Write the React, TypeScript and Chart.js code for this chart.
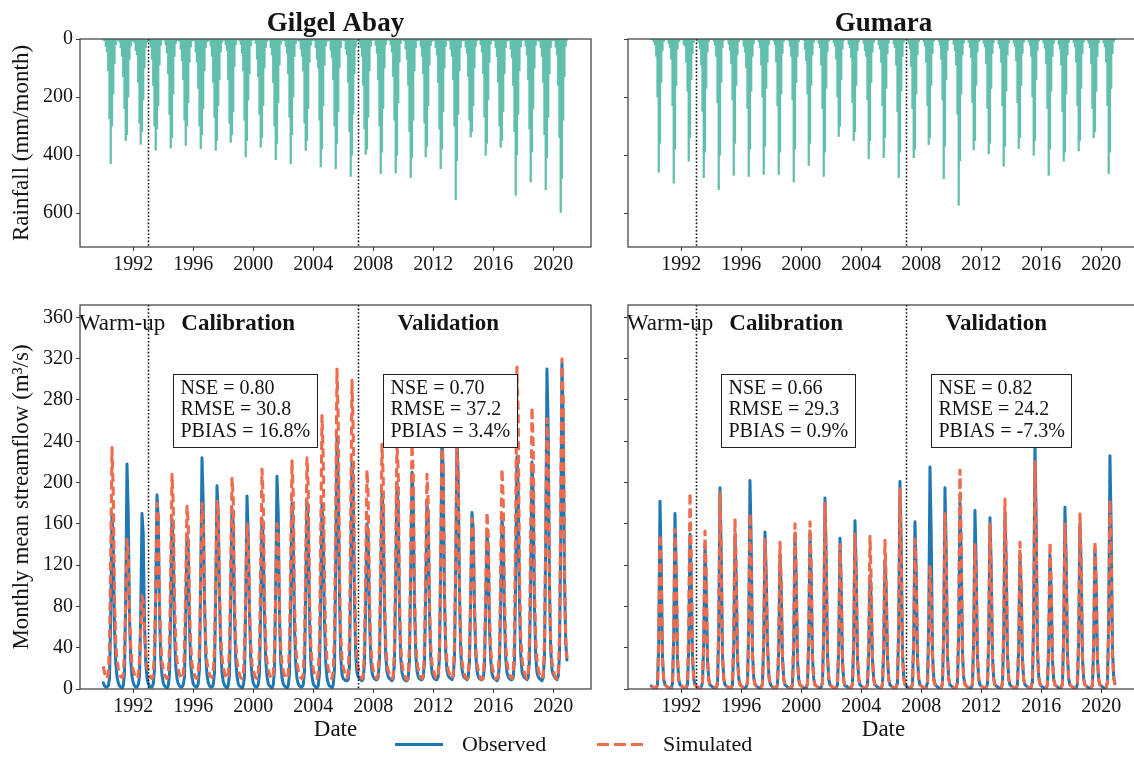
import React, { useEffect, useRef } from 'react';
import { Chart, registerables } from 'chart.js';

Chart.register(...registerables);

const FONT = "'Liberation Serif', 'Times New Roman', Times, serif";
const TEXT = '#141414';
const AXIS = '#3a3a3a';
const RAIN_COLOR = '#62bfad';
const OBS_COLOR = '#1f77b4';
const SIM_COLOR = '#ee6b4d';

const YEARS = [1990, 1991, 1992, 1993, 1994, 1995, 1996, 1997, 1998, 1999, 2000, 2001, 2002, 2003, 2004, 2005, 2006, 2007, 2008, 2009, 2010, 2011, 2012, 2013, 2014, 2015, 2016, 2017, 2018, 2019, 2020];
const X_TICKS = [1992, 1996, 2000, 2004, 2008, 2012, 2016, 2020];
const RAIN_TICKS = [0, 200, 400, 600];
const FLOW_TICKS = [0, 40, 80, 120, 160, 200, 240, 280, 320, 360];
const PERIOD_BREAKS = [1993, 2007];

// Monthly rainfall (mm/month), one row per year, Jan..Dec
const GA_RAIN = [
  [4, 6, 25, 45, 110, 275, 430, 300, 190, 85, 20, 5],
  [3, 10, 30, 60, 130, 240, 350, 330, 200, 70, 25, 6],
  [8, 12, 40, 55, 150, 290, 363, 320, 210, 100, 30, 10],
  [5, 9, 28, 70, 160, 300, 384, 310, 230, 90, 22, 4],
  [2, 5, 20, 48, 120, 260, 376, 340, 190, 60, 15, 6],
  [6, 8, 35, 75, 140, 280, 367, 300, 220, 80, 28, 7],
  [4, 7, 45, 80, 170, 300, 378, 330, 240, 110, 30, 9],
  [7, 5, 25, 60, 150, 270, 384, 350, 230, 140, 45, 12],
  [5, 4, 20, 40, 140, 290, 356, 330, 250, 95, 20, 3],
  [3, 6, 18, 50, 110, 280, 407, 350, 210, 120, 25, 5],
  [4, 3, 15, 70, 130, 260, 373, 340, 230, 100, 30, 8],
  [2, 5, 30, 55, 150, 300, 416, 360, 220, 90, 18, 4],
  [6, 4, 25, 50, 120, 270, 430, 330, 200, 60, 15, 5],
  [5, 8, 35, 60, 110, 290, 384, 350, 240, 80, 22, 6],
  [3, 6, 30, 70, 100, 280, 441, 380, 230, 90, 25, 8],
  [7, 5, 40, 65, 140, 300, 447, 360, 250, 100, 30, 5],
  [4, 6, 35, 55, 150, 320, 474, 400, 260, 120, 28, 7],
  [5, 8, 30, 60, 160, 310, 398, 380, 270, 110, 25, 6],
  [3, 4, 22, 50, 140, 300, 464, 390, 240, 100, 20, 4],
  [2, 5, 20, 45, 130, 280, 462, 400, 220, 80, 15, 3],
  [4, 7, 35, 70, 160, 320, 478, 410, 280, 110, 30, 6],
  [5, 3, 25, 60, 120, 290, 407, 370, 230, 90, 22, 8],
  [3, 6, 30, 55, 150, 310, 447, 380, 250, 100, 25, 5],
  [4, 8, 35, 60, 140, 300, 554, 420, 260, 110, 30, 7],
  [6, 5, 28, 50, 130, 280, 338, 320, 230, 100, 25, 6],
  [3, 4, 20, 45, 120, 270, 401, 360, 210, 80, 18, 4],
  [5, 7, 30, 60, 150, 300, 373, 350, 250, 120, 30, 8],
  [4, 6, 35, 65, 160, 320, 539, 400, 260, 110, 28, 6],
  [3, 5, 25, 55, 140, 310, 493, 390, 240, 100, 22, 5],
  [6, 8, 30, 60, 150, 330, 520, 410, 270, 120, 30, 7],
  [4, 6, 28, 55, 160, 340, 598, 480, 280, 130, 25, 5],
];

const GU_RAIN = [
  [2, 3, 10, 20, 60, 200, 459, 360, 150, 40, 8, 2],
  [1, 4, 15, 30, 70, 230, 497, 380, 160, 35, 10, 3],
  [3, 2, 20, 25, 80, 180, 421, 340, 140, 50, 12, 2],
  [2, 5, 12, 35, 90, 250, 478, 390, 170, 45, 9, 1],
  [1, 2, 8, 22, 60, 220, 519, 400, 150, 30, 6, 2],
  [2, 4, 18, 40, 85, 210, 470, 360, 160, 55, 10, 3],
  [3, 3, 25, 45, 100, 240, 474, 380, 180, 60, 15, 2],
  [2, 1, 10, 30, 90, 200, 467, 370, 170, 80, 20, 4],
  [1, 2, 8, 20, 80, 230, 467, 390, 190, 50, 8, 1],
  [2, 3, 6, 25, 60, 210, 493, 380, 150, 60, 10, 2],
  [1, 2, 5, 35, 75, 190, 436, 360, 160, 55, 12, 3],
  [2, 4, 15, 30, 90, 240, 474, 390, 170, 45, 8, 2],
  [3, 2, 12, 25, 70, 200, 336, 300, 140, 35, 6, 1],
  [2, 3, 18, 30, 65, 220, 350, 320, 160, 40, 10, 2],
  [1, 2, 15, 40, 60, 210, 413, 350, 150, 45, 12, 3],
  [3, 2, 20, 35, 80, 230, 409, 340, 170, 50, 14, 2],
  [2, 3, 18, 30, 90, 250, 478, 390, 180, 60, 12, 3],
  [2, 4, 15, 35, 95, 240, 409, 380, 190, 55, 10, 2],
  [1, 2, 10, 25, 80, 230, 364, 340, 160, 50, 8, 1],
  [1, 2, 8, 22, 70, 210, 482, 370, 140, 40, 6, 1],
  [2, 3, 18, 40, 90, 260, 573, 420, 190, 55, 14, 3],
  [3, 1, 12, 30, 65, 220, 382, 350, 160, 45, 10, 4],
  [2, 3, 15, 28, 85, 240, 396, 360, 170, 50, 12, 2],
  [2, 4, 18, 32, 80, 230, 439, 370, 180, 55, 14, 3],
  [3, 2, 14, 26, 75, 220, 378, 340, 160, 50, 12, 3],
  [1, 2, 10, 22, 60, 200, 401, 350, 140, 40, 8, 1],
  [2, 4, 15, 32, 85, 240, 470, 380, 180, 60, 15, 4],
  [2, 3, 18, 35, 90, 250, 421, 390, 190, 55, 12, 3],
  [1, 2, 12, 28, 80, 230, 386, 350, 170, 50, 10, 2],
  [3, 4, 15, 30, 85, 240, 341, 320, 180, 60, 14, 3],
  [2, 3, 14, 28, 80, 230, 464, 390, 170, 50, 10, 2],
];

// Monthly mean streamflow (m3/s), one row per year, Jan..Dec
const GA_OBS = [
  [6, 3, 2, 2, 3, 10, 70, 170, 140, 60, 25, 12],
  [6, 3, 2, 1, 3, 15, 90, 218, 170, 70, 28, 12],
  [6, 3, 2, 2, 4, 12, 75, 170, 150, 65, 25, 11],
  [5, 3, 2, 2, 5, 18, 95, 188, 165, 75, 30, 13],
  [6, 3, 2, 1, 3, 14, 80, 165, 140, 55, 22, 10],
  [5, 3, 2, 2, 4, 12, 70, 150, 135, 60, 24, 11],
  [5, 3, 2, 2, 5, 20, 110, 224, 180, 85, 32, 14],
  [6, 3, 2, 2, 4, 16, 95, 197, 170, 90, 40, 16],
  [7, 4, 2, 1, 3, 14, 90, 175, 160, 70, 28, 12],
  [5, 3, 2, 1, 3, 12, 85, 187, 150, 75, 30, 13],
  [6, 3, 2, 2, 4, 15, 80, 165, 145, 70, 28, 12],
  [5, 3, 2, 1, 4, 18, 100, 206, 170, 70, 26, 11],
  [5, 3, 2, 1, 3, 14, 90, 180, 150, 60, 24, 10],
  [5, 3, 2, 2, 4, 16, 95, 182, 160, 70, 28, 12],
  [5, 3, 2, 1, 3, 15, 90, 180, 150, 65, 26, 11],
  [5, 3, 2, 1, 4, 18, 120, 245, 200, 90, 32, 14],
  [10, 9, 8, 8, 9, 22, 110, 220, 190, 85, 32, 16],
  [12, 10, 9, 8, 10, 25, 85, 160, 145, 70, 30, 16],
  [12, 10, 9, 9, 11, 28, 100, 190, 170, 80, 32, 17],
  [12, 10, 9, 8, 10, 26, 105, 200, 175, 75, 30, 16],
  [11, 9, 8, 8, 10, 28, 110, 210, 185, 85, 34, 18],
  [12, 10, 9, 9, 11, 25, 95, 180, 165, 75, 30, 16],
  [12, 10, 9, 9, 12, 30, 120, 250, 210, 90, 35, 18],
  [13, 11, 10, 9, 12, 30, 115, 245, 205, 95, 36, 19],
  [13, 11, 10, 9, 11, 26, 90, 171, 155, 80, 34, 18],
  [12, 10, 9, 9, 10, 22, 80, 150, 135, 60, 28, 15],
  [11, 10, 9, 8, 10, 24, 85, 165, 150, 70, 30, 16],
  [12, 10, 9, 9, 11, 28, 110, 225, 195, 85, 34, 17],
  [13, 11, 10, 9, 11, 28, 105, 220, 190, 80, 32, 16],
  [12, 10, 9, 8, 11, 30, 140, 310, 250, 100, 38, 19],
  [14, 12, 10, 9, 12, 32, 140, 315, 260, 110, 45, 28],
];

const GA_SIM = [
  [22, 16, 12, 10, 14, 40, 130, 234, 190, 90, 45, 28],
  [20, 15, 12, 11, 13, 35, 85, 145, 130, 70, 40, 25],
  [18, 14, 11, 10, 12, 28, 60, 90, 85, 55, 35, 22],
  [17, 13, 11, 10, 14, 38, 100, 180, 165, 85, 45, 26],
  [19, 14, 11, 10, 13, 40, 115, 208, 180, 90, 45, 27],
  [19, 14, 11, 10, 14, 36, 100, 177, 160, 80, 42, 25],
  [18, 14, 11, 10, 15, 40, 105, 180, 165, 85, 44, 26],
  [19, 14, 12, 11, 15, 38, 100, 182, 170, 95, 50, 30],
  [21, 16, 12, 10, 13, 40, 115, 204, 185, 90, 45, 27],
  [19, 14, 11, 10, 13, 35, 90, 160, 150, 80, 42, 25],
  [18, 14, 11, 10, 14, 40, 120, 213, 185, 90, 44, 26],
  [19, 14, 11, 10, 13, 36, 95, 160, 150, 75, 40, 24],
  [18, 13, 11, 10, 14, 42, 125, 221, 190, 85, 42, 25],
  [18, 14, 11, 10, 14, 42, 125, 224, 195, 90, 45, 26],
  [19, 14, 11, 10, 15, 45, 150, 265, 225, 100, 48, 28],
  [20, 15, 12, 10, 16, 50, 170, 310, 260, 115, 52, 30],
  [21, 16, 12, 11, 16, 50, 165, 299, 250, 110, 50, 29],
  [20, 15, 12, 10, 14, 40, 115, 212, 185, 90, 44, 26],
  [18, 14, 11, 10, 14, 42, 130, 237, 205, 95, 45, 26],
  [18, 14, 11, 10, 13, 40, 130, 240, 210, 90, 42, 25],
  [17, 13, 10, 9, 13, 42, 130, 237, 210, 95, 46, 27],
  [19, 14, 11, 10, 13, 38, 115, 208, 180, 85, 42, 25],
  [18, 14, 11, 10, 14, 42, 130, 240, 210, 95, 45, 26],
  [19, 14, 11, 10, 14, 42, 128, 235, 205, 95, 46, 27],
  [19, 14, 11, 10, 13, 35, 95, 165, 150, 80, 42, 25],
  [18, 13, 10, 9, 12, 34, 95, 171, 150, 75, 38, 23],
  [17, 13, 10, 10, 13, 38, 115, 213, 185, 90, 44, 26],
  [18, 14, 11, 10, 15, 48, 170, 312, 265, 115, 52, 30],
  [20, 15, 12, 10, 14, 45, 150, 273, 235, 100, 48, 28],
  [19, 14, 11, 10, 14, 44, 145, 262, 230, 100, 46, 27],
  [18, 14, 11, 10, 15, 50, 175, 320, 280, 120, 50, 30],
];

const GU_OBS = [
  [3, 2, 1, 1, 1, 4, 45, 182, 120, 30, 9, 4],
  [3, 2, 1, 1, 1, 5, 50, 170, 115, 28, 9, 4],
  [3, 2, 1, 1, 1, 4, 40, 150, 110, 30, 10, 4],
  [3, 2, 1, 1, 2, 6, 45, 140, 100, 28, 9, 4],
  [3, 2, 1, 1, 1, 5, 55, 195, 130, 32, 10, 4],
  [3, 2, 1, 1, 1, 4, 40, 150, 105, 30, 10, 5],
  [3, 2, 1, 1, 2, 6, 60, 202, 140, 35, 11, 5],
  [3, 2, 1, 1, 2, 5, 45, 152, 110, 45, 15, 6],
  [3, 2, 1, 1, 1, 4, 38, 130, 95, 30, 10, 4],
  [3, 2, 1, 1, 1, 4, 42, 150, 105, 28, 9, 4],
  [3, 2, 1, 1, 1, 5, 45, 150, 110, 30, 10, 4],
  [3, 2, 1, 1, 2, 6, 55, 185, 125, 32, 10, 4],
  [3, 2, 1, 1, 1, 4, 40, 146, 100, 26, 8, 3],
  [3, 2, 1, 1, 1, 5, 45, 163, 115, 30, 10, 4],
  [3, 2, 1, 1, 1, 4, 35, 110, 85, 28, 9, 4],
  [3, 2, 1, 1, 1, 4, 38, 125, 95, 30, 10, 4],
  [3, 2, 1, 1, 2, 6, 60, 201, 140, 35, 11, 5],
  [3, 2, 1, 1, 1, 5, 48, 162, 115, 30, 10, 4],
  [3, 2, 1, 1, 2, 6, 65, 215, 150, 36, 11, 5],
  [3, 2, 1, 1, 1, 5, 55, 195, 135, 32, 10, 4],
  [3, 2, 1, 1, 2, 6, 55, 180, 130, 34, 11, 5],
  [3, 2, 1, 1, 1, 5, 50, 173, 120, 30, 10, 4],
  [3, 2, 1, 1, 1, 5, 48, 166, 118, 32, 10, 4],
  [3, 2, 1, 1, 1, 5, 50, 170, 120, 33, 10, 4],
  [3, 2, 1, 1, 1, 4, 40, 130, 95, 28, 9, 4],
  [3, 2, 1, 1, 2, 7, 70, 238, 160, 38, 12, 5],
  [3, 2, 1, 1, 1, 4, 40, 130, 95, 28, 9, 4],
  [3, 2, 1, 1, 1, 5, 52, 176, 125, 32, 10, 4],
  [3, 2, 1, 1, 1, 5, 48, 160, 115, 30, 10, 4],
  [3, 2, 1, 1, 1, 4, 42, 136, 100, 28, 9, 4],
  [3, 2, 1, 1, 2, 7, 68, 226, 155, 38, 12, 5],
];

const GU_SIM = [
  [3, 2, 1, 1, 1, 5, 50, 150, 110, 30, 8, 4],
  [3, 2, 1, 1, 1, 6, 55, 155, 115, 32, 9, 4],
  [3, 2, 1, 1, 2, 7, 65, 190, 130, 35, 10, 4],
  [3, 2, 1, 1, 1, 5, 50, 153, 110, 30, 9, 4],
  [3, 2, 1, 1, 2, 7, 62, 190, 130, 34, 10, 4],
  [3, 2, 1, 1, 1, 6, 55, 165, 118, 32, 10, 4],
  [3, 2, 1, 1, 2, 6, 56, 170, 120, 33, 10, 4],
  [3, 2, 1, 1, 1, 5, 48, 145, 105, 40, 12, 5],
  [3, 2, 1, 1, 1, 5, 46, 142, 105, 30, 9, 4],
  [3, 2, 1, 1, 1, 5, 52, 160, 112, 30, 9, 4],
  [3, 2, 1, 1, 1, 6, 54, 162, 115, 31, 9, 4],
  [3, 2, 1, 1, 2, 6, 60, 180, 125, 33, 10, 4],
  [3, 2, 1, 1, 1, 5, 45, 140, 100, 28, 8, 3],
  [3, 2, 1, 1, 1, 5, 48, 150, 108, 30, 9, 4],
  [3, 2, 1, 1, 1, 5, 48, 148, 105, 30, 9, 4],
  [3, 2, 1, 1, 1, 5, 46, 144, 102, 30, 9, 4],
  [3, 2, 1, 1, 2, 7, 64, 194, 135, 35, 10, 4],
  [3, 2, 1, 1, 1, 5, 46, 145, 105, 30, 9, 4],
  [3, 2, 1, 1, 1, 4, 40, 120, 90, 28, 8, 4],
  [3, 2, 1, 1, 1, 6, 55, 170, 120, 32, 9, 4],
  [3, 2, 1, 1, 2, 7, 70, 212, 145, 36, 10, 4],
  [3, 2, 1, 1, 1, 5, 45, 140, 100, 29, 9, 4],
  [3, 2, 1, 1, 1, 5, 52, 160, 112, 31, 9, 4],
  [3, 2, 1, 1, 2, 6, 60, 184, 128, 33, 10, 4],
  [3, 2, 1, 1, 1, 5, 46, 142, 102, 29, 9, 4],
  [3, 2, 1, 1, 2, 7, 72, 220, 150, 36, 11, 5],
  [3, 2, 1, 1, 1, 5, 46, 142, 102, 29, 9, 4],
  [3, 2, 1, 1, 1, 5, 52, 160, 112, 30, 9, 4],
  [3, 2, 1, 1, 1, 6, 56, 171, 118, 31, 9, 4],
  [3, 2, 1, 1, 1, 5, 46, 143, 104, 29, 9, 4],
  [3, 2, 1, 1, 2, 6, 60, 183, 128, 34, 10, 4],
];

const GA_CAL_STATS = ['NSE = 0.80', 'RMSE = 30.8', 'PBIAS = 16.8%'];
const GA_VAL_STATS = ['NSE = 0.70', 'RMSE = 37.2', 'PBIAS = 3.4%'];
const GU_CAL_STATS = ['NSE = 0.66', 'RMSE = 29.3', 'PBIAS = 0.9%'];
const GU_VAL_STATS = ['NSE = 0.82', 'RMSE = 24.2', 'PBIAS = -7.3%'];

const X_MIN = 1988.45;
const X_MAX = 2022.52;

function toPoints(rows: number[][]) {
  const pts: { x: number; y: number }[] = [];
  rows.forEach((row, i) => {
    row.forEach((v, m) => pts.push({ x: YEARS[i] + m / 12, y: v }));
  });
  return pts;
}

const framePlugin = {
  id: 'frame',
  afterDraw(chart: any) {
    const { ctx, chartArea: a } = chart;
    ctx.save();
    ctx.strokeStyle = AXIS;
    ctx.lineWidth = 1.2;
    ctx.strokeRect(a.left, a.top, a.right - a.left, a.bottom - a.top);
    ctx.restore();
  },
};

const breaksPlugin = {
  id: 'breaks',
  afterDatasetsDraw(chart: any) {
    const { ctx, chartArea: a, scales } = chart;
    ctx.save();
    ctx.strokeStyle = '#111';
    ctx.lineWidth = 1.6;
    ctx.setLineDash([1.6, 2]);
    PERIOD_BREAKS.forEach((b) => {
      const x = Math.round(scales.x.getPixelForValue(b)) + 0.5;
      ctx.beginPath();
      ctx.moveTo(x, a.top);
      ctx.lineTo(x, a.bottom);
      ctx.stroke();
    });
    ctx.restore();
  },
};

function titlePlugin(text: string) {
  return {
    id: 'panelTitle',
    afterDraw(chart: any) {
      const { ctx, chartArea: a } = chart;
      ctx.save();
      ctx.fillStyle = TEXT;
      ctx.font = `bold 27px ${FONT}`;
      ctx.textAlign = 'center';
      ctx.textBaseline = 'middle';
      ctx.fillText(text, (a.left + a.right) / 2, 24);
      ctx.restore();
    },
  };
}

function notesPlugin(cal: string[], val: string[]) {
  return {
    id: 'notes',
    afterDraw(chart: any) {
      const { ctx, chartArea: a, scales } = chart;
      const xs = scales.x;
      const ys = scales.y;
      ctx.save();
      ctx.fillStyle = TEXT;
      ctx.textBaseline = 'middle';
      ctx.font = `23px ${FONT}`;
      ctx.textAlign = 'left';
      ctx.fillText('Warm-up', a.left - 1, a.top + 19);
      ctx.font = `bold 23px ${FONT}`;
      ctx.textAlign = 'center';
      ctx.fillText('Calibration', xs.getPixelForValue(1999), a.top + 19);
      ctx.fillText('Validation', xs.getPixelForValue(2013), a.top + 19);

      ctx.font = `20px ${FONT}`;
      ctx.textAlign = 'left';
      const boxes = [
        { lines: cal, x: 1994.67 },
        { lines: val, x: 2008.67 },
      ];
      boxes.forEach((b) => {
        const bx = Math.round(xs.getPixelForValue(b.x)) + 0.5;
        const by = Math.round(ys.getPixelForValue(305)) + 0.5;
        const w = Math.round(Math.max(...b.lines.map((l) => ctx.measureText(l).width)) + 14);
        const h = 73;
        ctx.fillStyle = '#ffffff';
        ctx.fillRect(bx, by, w, h);
        ctx.strokeStyle = '#222';
        ctx.lineWidth = 1;
        ctx.strokeRect(bx, by, w, h);
        ctx.fillStyle = TEXT;
        b.lines.forEach((l, i) => ctx.fillText(l, bx + 7, by + 14 + i * 21.5));
      });
      ctx.restore();
    },
  };
}

function xScale(height: number, withTitle: boolean) {
  return {
    type: 'linear',
    min: X_MIN,
    max: X_MAX,
    offset: false,
    afterBuildTicks: (s: any) => {
      s.ticks = X_TICKS.map((v) => ({ value: v }));
    },
    afterFit: (s: any) => {
      s.height = height;
    },
    grid: { display: true, drawOnChartArea: false, drawTicks: true, tickLength: 4, color: AXIS, lineWidth: 1, offset: false },
    border: { display: false },
    ticks: {
      font: { family: FONT, size: 20 },
      color: TEXT,
      padding: 2,
      maxRotation: 0,
      minRotation: 0,
      autoSkip: false,
      callback: (v: any) => String(v),
    },
    title: {
      display: withTitle,
      text: 'Date',
      font: { family: FONT, size: 23 },
      color: TEXT,
      padding: { top: 0, bottom: 13 },
    },
  };
}

function yScale(opts: { min: number; max: number; reverse: boolean; ticks: number[]; title: string; showLabels: boolean }) {
  return {
    type: 'linear',
    min: opts.min,
    max: opts.max,
    reverse: opts.reverse,
    afterBuildTicks: (s: any) => {
      s.ticks = opts.ticks.map((v) => ({ value: v }));
    },
    afterFit: (s: any) => {
      s.width = 80;
    },
    grid: { display: true, drawOnChartArea: false, drawTicks: true, tickLength: 4, color: AXIS, lineWidth: 1 },
    border: { display: false },
    ticks: {
      font: { family: FONT, size: 20 },
      color: TEXT,
      padding: 3,
      callback: (v: any) => (opts.showLabels ? String(v) : ''),
    },
    title: {
      display: opts.showLabels,
      text: opts.title,
      font: { family: FONT, size: 23 },
      color: TEXT,
      padding: { top: 8, bottom: 0 },
    },
  };
}

function rainConfig(rows: number[][], title: string, showY: boolean): any {
  return {
    type: 'bar',
    data: {
      datasets: [
        {
          data: toPoints(rows),
          backgroundColor: RAIN_COLOR,
          borderWidth: 0,
          barThickness: 1.6,
          categoryPercentage: 1,
          barPercentage: 1,
        },
      ],
    },
    options: {
      animation: false,
      responsive: false,
      devicePixelRatio: 1,
      layout: { padding: { top: 39, right: 9, left: 0, bottom: 0 } },
      plugins: { legend: { display: false }, tooltip: { enabled: false } },
      scales: {
        x: xScale(43, false),
        y: yScale({ min: 0, max: 717, reverse: true, ticks: RAIN_TICKS, title: 'Rainfall (mm/month)', showLabels: showY }),
      },
    },
    plugins: [framePlugin, breaksPlugin, titlePlugin(title)],
  };
}

function flowConfig(obs: number[][], sim: number[][], cal: string[], val: string[], showY: boolean): any {
  return {
    type: 'line',
    data: {
      datasets: [
        {
          label: 'Simulated',
          data: toPoints(sim),
          borderColor: SIM_COLOR,
          borderWidth: 3.1,
          borderDash: [9, 4.5],
          borderJoinStyle: 'round',
          pointRadius: 0,
          tension: 0,
          fill: false,
        },
        {
          label: 'Observed',
          data: toPoints(obs),
          borderColor: OBS_COLOR,
          borderWidth: 3.0,
          borderJoinStyle: 'round',
          borderCapStyle: 'round',
          pointRadius: 0,
          tension: 0,
          fill: false,
        },
      ],
    },
    options: {
      animation: false,
      responsive: false,
      devicePixelRatio: 1,
      layout: { padding: { top: 11, right: 9, left: 0, bottom: 0 } },
      plugins: { legend: { display: false }, tooltip: { enabled: false } },
      scales: {
        x: xScale(68, true),
        y: yScale({ min: 0, max: 372, reverse: false, ticks: FLOW_TICKS, title: 'Monthly mean streamflow (m³/s)', showLabels: showY }),
      },
    },
    plugins: [framePlugin, breaksPlugin, notesPlugin(cal, val)],
  };
}

function ChartCanvas(props: { left: number; top: number; width: number; height: number; build: () => any }) {
  const ref = useRef<HTMLCanvasElement>(null);
  useEffect(() => {
    const chart = new Chart(ref.current as HTMLCanvasElement, props.build());
    return () => chart.destroy();
  }, []);
  return (
    <canvas
      ref={ref}
      width={props.width}
      height={props.height}
      style={{ position: 'absolute', left: props.left, top: props.top, width: props.width, height: props.height }}
    />
  );
}

export default function App() {
  const legendText: React.CSSProperties = {
    position: 'absolute',
    top: 731,
    height: 26,
    lineHeight: '26px',
    fontFamily: FONT,
    fontSize: 22,
    color: TEXT,
    whiteSpace: 'nowrap',
  };
  return (
    <div
      style={{
        position: 'fixed',
        left: 0,
        top: 0,
        width: 1134,
        height: 757,
        overflow: 'hidden',
        background: '#ffffff',
      }}
    >
      <ChartCanvas left={0} top={0} width={600} height={290} build={() => rainConfig(GA_RAIN, 'Gilgel Abay', true)} />
      <ChartCanvas left={548} top={0} width={600} height={290} build={() => rainConfig(GU_RAIN, 'Gumara', false)} />
      <ChartCanvas left={0} top={290} width={600} height={467} build={() => flowConfig(GA_OBS, GA_SIM, GA_CAL_STATS, GA_VAL_STATS, true)} />
      <ChartCanvas left={548} top={290} width={600} height={467} build={() => flowConfig(GU_OBS, GU_SIM, GU_CAL_STATS, GU_VAL_STATS, false)} />
      <div style={{ position: 'absolute', left: 395, top: 742.5, width: 48, height: 3, background: OBS_COLOR }} />
      <div style={{ ...legendText, left: 462 }}>Observed</div>
      <div
        style={{
          position: 'absolute',
          left: 597,
          top: 742.5,
          width: 46,
          height: 3,
          background: `repeating-linear-gradient(to right, ${SIM_COLOR} 0px, ${SIM_COLOR} 12px, transparent 12px, transparent 17px)`,
        }}
      />
      <div style={{ ...legendText, left: 663 }}>Simulated</div>
    </div>
  );
}
